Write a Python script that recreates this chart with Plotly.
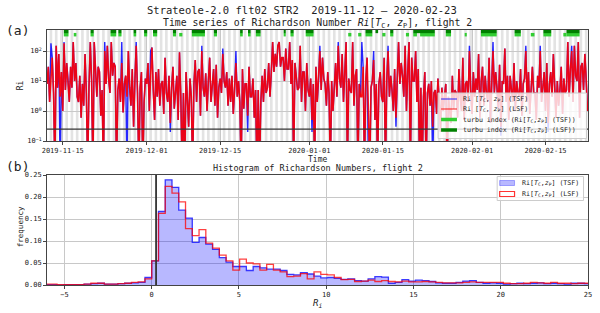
import numpy as np
import pandas as pd
import plotly.graph_objects as go

# ---------------- data ----------------
start_time = "2019-11-12 00:00"
sample_step = "6h"

# Richardson number, LSF (red), 4 samples per day
ri_lsf = [
    8, 30, 2, 15,   60, 4, 0.01, 150,   6, 80, 3, 20,   1, 180, 5, 40,   12, 2, 30, 6,
    200, 10, 40, 3,   2, 15, 0.6, 8,   1.5, 80, 4, 0.01,   6, 200, 10, 0.01,   200, 15, 3, 30,
    20, 0.7, 5, 0.01,   100, 8, 150, 12,   4, 200, 15, 40,   30, 0.01, 5, 12,   2, 40, 0.9, 8,
    15, 3, 100, 6,   1.5, 25, 0.3, 10,   150, 4, 0.01, 6,   20, 0.01, 2, 12,   8, 40, 1, 15,
    130, 5, 0.5, 20,   3, 25, 1.5, 8,   10, 0.8, 60, 4,   2, 15, 0.4, 6,   30, 1.2, 6, 15,
    0.5, 90, 3, 0.01,   4, 0.01, 20, 2,   0.3, 12, 3, 0.01,   8, 50, 2, 20,   25, 0.7, 100, 6,
    3, 18, 1, 10,   60, 2, 9, 25,   1.5, 35, 0.6, 6,   12, 4, 80, 10,   6, 20, 1.5, 12,
    2, 15, 0.8, 5,   40, 3, 10, 2,   0.01, 25, 1.2, 8,   8, 0.7, 30, 3,   3, 12, 0.6, 5,
    0.01, 5, 0.01, 2,   15, 2, 25, 4,   6, 40, 3, 20,   200, 20, 80, 30,   150, 200, 30, 60,
    60, 10, 120, 25,   25, 200, 8, 50,   0.01, 40, 15, 5,   6, 150, 2, 20,   20, 1, 40, 5,
    3, 12, 0.5, 8,   0.01, 30, 2, 10,   100, 5, 60, 12,   8, 1.5, 20, 4,   0.01, 10, 1, 6,
    40, 3, 150, 12,   6, 80, 2, 20,   200, 0.01, 12, 5,   4, 200, 1.5, 15,   25, 0.01, 8, 3,
    3, 30, 0.01, 10,   60, 1, 0.01, 6,   10, 50, 0.5, 8,   0.01, 8, 20, 3,   2, 60, 0.01, 10,
    100, 3, 15, 5,   1, 25, 0.6, 12,   200, 8, 40, 15,   3, 150, 1, 20,   200, 0.01, 60, 10,
    10, 100, 2, 25,   0.01, 6, 0.01, 3,   20, 0.01, 4, 8,   1.5, 10, 0.3, 4,   5, 0.8, 12, 2,
    0.2, 6, 1, 3,   8, 0.01, 3, 1,   0.4, 15, 1.2, 5,   4, 0.6, 25, 3,   1, 60, 0.5, 8,
    10, 2, 100, 5,   0.8, 20, 3, 12,   5, 80, 0.6, 10,   30, 1.5, 15, 4,   2, 60, 0.4, 8,
    100, 4, 20, 6,   1.2, 35, 0.3, 10,   8, 120, 2, 15,   0.5, 15, 5, 2,   40, 1, 10, 4,
    3, 25, 0.7, 8,   12, 100, 2, 20,   0.8, 8, 30, 4,   4, 0.5, 15, 6,   100, 2, 6, 20,
    1, 40, 0.4, 8,   20, 3, 80, 10,   0.6, 10, 1.5, 5,   30, 0.8, 12, 4,   5, 200, 3, 25,
    100, 2, 150, 15,   10, 200, 0.6, 30,   40, 5, 80, 12,   1,
]

# Richardson number, TSF (blue), 4 samples per day (mostly hidden under LSF)
ri_tsf = [
    8, 30, 2, 180,   60, 4, 0.01, 150,   6, 80, 0.01, 20,   1, 200, 5, 40,   12, 2, 30, 6,
    200, 10, 40, 3,   2, 15, 0.6, 8,   1.5, 80, 4, 0.01,   6, 200, 10, 0.01,   200, 15, 3, 30,
    20, 0.7, 5, 0.01,   200, 8, 150, 12,   4, 200, 15, 40,   30, 0.01, 5, 12,   2, 200, 0.9, 8,
    15, 0.01, 100, 6,   1.5, 25, 0.3, 10,   200, 4, 0.01, 6,   20, 0.01, 2, 12,   8, 40, 1, 100,
    130, 5, 0.5, 20,   3, 25, 1.5, 8,   10, 0.8, 60, 4,   2, 15, 0.2, 6,   30, 1.2, 6, 15,
    0.5, 90, 3, 0.01,   4, 0.01, 20, 2,   0.3, 12, 3, 0.01,   8, 50, 2, 20,   25, 0.7, 150, 6,
    3, 18, 1, 10,   60, 2, 9, 25,   1.5, 35, 0.6, 6,   12, 4, 120, 10,   6, 20, 1.5, 12,
    2, 15, 0.8, 5,   100, 3, 10, 2,   0.01, 25, 1.2, 8,   8, 0.2, 30, 3,   3, 12, 0.6, 5,
    0.01, 5, 0.01, 2,   15, 2, 25, 4,   6, 40, 3, 20,   200, 20, 80, 30,   150, 200, 30, 60,
    60, 10, 120, 25,   25, 200, 8, 50,   0.01, 40, 15, 5,   6, 150, 2, 20,   20, 1, 40, 5,
    3, 12, 0.2, 8,   0.01, 30, 2, 10,   150, 5, 60, 12,   8, 1.5, 20, 4,   0.01, 10, 1, 6,
    40, 3, 200, 12,   6, 80, 2, 20,   200, 0.01, 12, 5,   4, 200, 1.5, 15,   25, 0.01, 8, 3,
    200, 30, 0.01, 10,   60, 0.01, 0.01, 6,   10, 100, 0.5, 8,   0.01, 8, 20, 3,   2, 60, 0.01, 10,
    150, 3, 15, 5,   1, 25, 0.3, 12,   200, 8, 40, 15,   3, 150, 1, 20,   200, 0.01, 60, 10,
    10, 100, 2, 25,   0.01, 6, 0.01, 3,   20, 0.01, 4, 8,   1.5, 10, 0.01, 4,   5, 0.8, 12, 2,
    0.2, 6, 1, 3,   8, 0.01, 3, 1,   0.4, 15, 1.2, 5,   4, 0.6, 25, 3,   1, 60, 0.5, 8,
    10, 2, 150, 5,   0.8, 20, 3, 12,   5, 80, 0.6, 10,   30, 1.5, 15, 4,   2, 60, 0.4, 8,
    200, 4, 20, 6,   1.2, 35, 0.15, 10,   8, 120, 2, 15,   0.5, 15, 5, 2,   40, 1, 10, 4,
    3, 25, 0.7, 8,   12, 150, 2, 20,   0.8, 8, 30, 4,   4, 0.5, 15, 6,   150, 2, 6, 20,
    1, 40, 0.2, 8,   20, 3, 80, 10,   0.6, 10, 1.5, 5,   30, 0.8, 12, 4,   5, 200, 3, 25,
    150, 2, 150, 15,   10, 200, 0.6, 30,   40, 5, 80, 12,   1,
]

# turbulence index periods (days since start)
turb_tsf_start = [3.2, 5.1, 8.3, 12.1, 13.6, 16.5, 18.5, 20.2, 24.0, 25.2, 27.6, 31.8,
                  36.8, 38.3, 39.8, 45.1, 46.4, 49.3, 57.4, 59.3, 60.7, 63.9, 65.4,
                  68.4, 69.8, 71.1, 76.0, 79.6, 82.7, 89.1, 92.2, 94.6, 98.4, 99.0]
turb_tsf_end = [4.1, 5.6, 8.9, 13.2, 14.2, 17.0, 19.1, 21.0, 24.6, 25.8, 30.1, 32.4,
                37.3, 38.8, 40.7, 45.5, 47.0, 50.8, 58.0, 59.9, 62.0, 64.5, 66.0,
                69.0, 70.5, 73.9, 77.0, 80.0, 85.7, 90.3, 92.9, 96.1, 99.0, 101.5]
turb_lsf_start = [3.2, 8.3, 12.1, 13.6, 16.5, 18.5, 20.2, 24.0, 27.6, 31.8, 36.8, 38.3,
                  39.8, 45.1, 46.4, 49.3, 60.7, 62.6, 65.4, 69.8, 76.0, 82.7, 89.1,
                  94.6, 99.0]
turb_lsf_end = [4.1, 8.9, 13.2, 14.2, 17.0, 19.1, 21.0, 24.6, 30.1, 32.4, 37.3, 38.8,
                40.7, 45.5, 47.0, 50.8, 62.0, 63.1, 66.0, 73.9, 77.0, 85.7, 90.3,
                96.1, 101.5]

date_ticks = ["2019-11-15", "2019-12-01", "2019-12-15", "2020-01-01",
              "2020-01-15", "2020-02-01", "2020-02-15"]

# histogram of Ri (bins of width 0.3875 starting at -6.2)
hist_bin_start = -6.2
hist_bin_width = 0.3875
hist_tsf = [
    0.001, 0.001, 0.0005, 0.001, 0.001, 0.001, 0.002, 0.003, 0.004, 0.002, 0.002, 0.003, 0.004, 0.005, 0.006, 0.017,
    0.055, 0.167, 0.239, 0.222, 0.170, 0.152, 0.097, 0.108, 0.093, 0.081,
    0.062, 0.052, 0.042, 0.042, 0.033, 0.042, 0.039, 0.036, 0.036, 0.033,
    0.024, 0.023, 0.028, 0.025, 0.020, 0.016, 0.017, 0.015, 0.013, 0.014,
    0.010, 0.009, 0.014, 0.019, 0.018, 0.004, 0.006, 0.012, 0.009, 0.011,
    0.010, 0.008, 0.005, 0.004, 0.004, 0.006, 0.009, 0.010, 0.006, 0.004,
    0.005, 0.004, 0.002, 0.003, 0.004, 0.003, 0.004, 0.005, 0.003, 0.004,
    0.003, 0.002, 0.004, 0.004, 0.003,
]
hist_lsf = [
    0.002, 0.002, 0.001, 0.001, 0.001, 0.001, 0.002, 0.004, 0.004, 0.002, 0.002, 0.003, 0.004, 0.006, 0.007, 0.014,
    0.055, 0.163, 0.224, 0.209, 0.189, 0.128, 0.112, 0.126, 0.095, 0.084,
    0.068, 0.055, 0.034, 0.059, 0.050, 0.048, 0.034, 0.047, 0.034, 0.030,
    0.019, 0.020, 0.026, 0.014, 0.030, 0.024, 0.023, 0.017, 0.012, 0.013,
    0.008, 0.009, 0.011, 0.008, 0.010, 0.008, 0.007, 0.009, 0.007, 0.007,
    0.008, 0.007, 0.006, 0.005, 0.005, 0.005, 0.006, 0.007, 0.006, 0.006,
    0.006, 0.006, 0.004, 0.003, 0.003, 0.004, 0.006, 0.005, 0.004, 0.006,
    0.004, 0.004, 0.003, 0.004, 0.004,
]
ri_critical = 0.25

# ---------------- figure ----------------
FONT = "DejaVu Sans Mono"
W, H = 600, 313
ML, MR, MT, MB = 47, 8, 30, 28
PW = W - ML - MR          # 545
PH = H - MT - MB          # 255


def px(xpage):   # page x pixel -> paper x
    return (xpage - ML) / PW


def py(ypage):   # page y pixel -> paper y
    return (H - MB - ypage) / PH


t0 = pd.Timestamp(start_time)
times = pd.date_range(t0, periods=len(ri_lsf), freq=sample_step)

BLUE = "rgba(0,0,255,0.85)"
RED = "rgba(255,0,0,0.9)"
LGREEN = "#32cd32"
DGREEN = "#008000"

fig = go.Figure()
fig.add_trace(go.Scatter(x=times, y=ri_tsf, mode="lines", line=dict(color=BLUE, width=1.4),
                         xaxis="x", yaxis="y", showlegend=False))
fig.add_trace(go.Scatter(x=times, y=ri_lsf, mode="lines", line=dict(color=RED, width=1.6),
                         xaxis="x", yaxis="y", showlegend=False))


def seg_xy(starts, ends, level):
    xs, ys = [], []
    for a, b in zip(starts, ends):
        xs += [t0 + pd.Timedelta(days=a), t0 + pd.Timedelta(days=b), None]
        ys += [level, level, None]
    return xs, ys


xs, ys = seg_xy(turb_tsf_start, turb_tsf_end, 350)
fig.add_trace(go.Scatter(x=xs, y=ys, mode="lines", line=dict(color=LGREEN, width=3.5),
                         xaxis="x", yaxis="y", showlegend=False, connectgaps=False))
xs, ys = seg_xy(turb_lsf_start, turb_lsf_end, 450)
fig.add_trace(go.Scatter(x=xs, y=ys, mode="lines", line=dict(color=DGREEN, width=3.5),
                         xaxis="x", yaxis="y", showlegend=False, connectgaps=False))

# histogram as step outlines
n_bins = len(hist_tsf)
edges = [round(hist_bin_start + hist_bin_width * i, 4) for i in range(n_bins + 1)]
hx = [edges[0]] + edges
fig.add_trace(go.Scatter(x=hx, y=[0] + hist_tsf + [0], mode="lines", line_shape="hv",
                         fill="tozeroy", fillcolor="rgba(0,0,255,0.28)",
                         line=dict(color="rgba(0,0,255,0.75)", width=1.3),
                         xaxis="x2", yaxis="y2", showlegend=False))
fig.add_trace(go.Scatter(x=hx, y=[0] + hist_lsf + [0], mode="lines", line_shape="hv",
                         line=dict(color="rgba(255,0,0,0.75)", width=1.3),
                         xaxis="x2", yaxis="y2", showlegend=False))

# night shading stripes + reference lines
shapes = []
n_days = int(np.ceil(len(ri_lsf) / 4)) + 1
for d in range(-1, n_days):
    shapes.append(dict(type="rect", xref="x", yref="y domain",
                       x0=t0 + pd.Timedelta(days=d + 0.5), x1=t0 + pd.Timedelta(days=d + 1.0),
                       y0=0, y1=1, fillcolor="#e3e3e3", line=dict(width=0), layer="below"))
shapes.append(dict(type="line", xref="x domain", yref="y", x0=0, x1=1,
                   y0=ri_critical, y1=ri_critical, line=dict(color="#333333", width=1.3)))
shapes.append(dict(type="line", xref="x2", yref="y2 domain", x0=ri_critical, x1=ri_critical,
                   y0=0, y1=1, line=dict(color="#333333", width=1.8)))

# ---- legend of panel (a), drawn by hand for a compact layout ----
leg_a_labels = [
    "Ri [<i>T</i><sub>C</sub>, <i>z</i><sub>P</sub>] (TSF)",
    "Ri [<i>T</i><sub>C</sub>, <i>z</i><sub>P</sub>] (LSF)",
    "turbu index (Ri[<i>T</i><sub>C</sub>,<i>z</i><sub>P</sub>] (TSF))",
    "turbu index (Ri[<i>T</i><sub>C</sub>,<i>z</i><sub>P</sub>] (LSF))",
]
leg_a_colors = [BLUE, RED, LGREEN, DGREEN]
leg_a_widths = [1, 1, 3.5, 3.5]
leg_a_rows = [99, 109, 119.5, 130]
shapes.append(dict(type="rect", xref="paper", yref="paper",
                   x0=px(441), x1=px(590.5), y0=py(138.5), y1=py(93),
                   fillcolor="rgba(255,255,255,0.8)", line=dict(color="#cccccc", width=1)))
for lab, c, w, yr in zip(leg_a_labels, leg_a_colors, leg_a_widths, leg_a_rows):
    shapes.append(dict(type="line", xref="paper", yref="paper", x0=px(444), x1=px(460),
                       y0=py(yr), y1=py(yr), line=dict(color=c, width=w)))

# ---- legend of panel (b) ----
leg_b_labels = ["Ri[<i>T</i><sub>C</sub>,<i>z</i><sub>P</sub>] (TSF)",
                "Ri[<i>T</i><sub>C</sub>,<i>z</i><sub>P</sub>] (LSF)"]
leg_b_rows = [183, 194]
shapes.append(dict(type="rect", xref="paper", yref="paper",
                   x0=px(500.5), x1=px(587.5), y0=py(200.5), y1=py(176.5),
                   fillcolor="rgba(255,255,255,0.8)", line=dict(color="#cccccc", width=1)))
shapes.append(dict(type="rect", xref="paper", yref="paper", x0=px(503), x1=px(518),
                   y0=py(leg_b_rows[0] + 2.5), y1=py(leg_b_rows[0] - 2.5),
                   fillcolor="rgba(0,0,255,0.28)", line=dict(color="rgba(0,0,255,0.3)", width=1)))
shapes.append(dict(type="rect", xref="paper", yref="paper", x0=px(503), x1=px(518),
                   y0=py(leg_b_rows[1] + 2.5), y1=py(leg_b_rows[1] - 2.5),
                   fillcolor="rgba(0,0,0,0)", line=dict(color="rgba(255,0,0,0.8)", width=1.2)))

tickfont = dict(family=FONT, size=7, color="#222222")
axis_common = dict(showline=True, linecolor="#444444", linewidth=1, mirror=True,
                   ticks="outside", ticklen=3, tickcolor="#444444", tickfont=tickfont,
                   showgrid=True, gridcolor="#c8c8c8", gridwidth=0.8, zeroline=False)

fig.update_layout(
    width=W, height=H,
    margin=dict(l=ML, r=MR, t=MT, b=MB),
    paper_bgcolor="white", plot_bgcolor="white",
    font=dict(family=FONT, size=8, color="#222222"),
    showlegend=False,
    xaxis=dict(domain=[0, 1], anchor="y", type="date",
               range=[t0, t0 + pd.Timedelta(days=103.1)],
               tickvals=date_ticks, tickformat="%Y-%m-%d", **axis_common),
    yaxis=dict(domain=[py(141), 1.0], anchor="x", type="log", range=[-1, 2.7],
               tickvals=[0.1, 1, 10, 100],
               ticktext=["10<sup>−1</sup>", "10<sup>0</sup>", "10<sup>1</sup>", "10<sup>2</sup>"],
               **axis_common),
    xaxis2=dict(domain=[0, 1], anchor="y2", range=[-6, 25], dtick=5, **axis_common),
    yaxis2=dict(domain=[0, py(175)], anchor="x2", range=[0, 0.25], dtick=0.05,
                tickformat=".2f", **axis_common),
    shapes=shapes,
)

ann = [
    dict(text="Strateole-2.0 flt02 STR2  2019-11-12 – 2020-02-23", x=px(304), y=py(10),
         font=dict(family=FONT, size=10.5)),
    dict(text="Time series of Richardson Number <i>Ri</i>[<i>T</i><sub>C</sub>, <i>z</i><sub>P</sub>], flight 2",
         x=0.5, y=py(23), font=dict(family=FONT, size=9.8)),
    dict(text="(a)", x=px(4), y=py(31), xanchor="left", font=dict(family=FONT, size=13)),
    dict(text="(b)", x=px(4), y=py(166), xanchor="left", font=dict(family=FONT, size=13)),
    dict(text="Histogram of Richardson Numbers, flight 2", x=0.5, y=py(168),
         font=dict(family=FONT, size=8.5)),
    dict(text="Time", x=0.5, y=py(159.5), font=dict(family=FONT, size=8)),
    dict(text="<i>R</i><sub><i>i</i></sub>", x=0.5, y=py(303), font=dict(family=FONT, size=9)),
    dict(text="Ri", x=px(20), y=py(85), textangle=-90, font=dict(family=FONT, size=8)),
    dict(text="frequency", x=px(20), y=py(227), textangle=-90, font=dict(family=FONT, size=7.5)),
]
for lab, yr in zip(leg_a_labels, leg_a_rows):
    ann.append(dict(text=lab, x=px(464), y=py(yr), xanchor="left",
                    font=dict(family=FONT, size=6.6)))
for lab, yr in zip(leg_b_labels, leg_b_rows):
    ann.append(dict(text=lab, x=px(523), y=py(yr), xanchor="left",
                    font=dict(family=FONT, size=6.6)))
for a in ann:
    a.setdefault("xanchor", "center")
    fig.add_annotation(xref="paper", yref="paper", showarrow=False, yanchor="middle", **a)

# remove the browser's default 8px body margin so the 600x313 figure fills the window
fig.write_html("out.html", config={"displayModeBar": False},
               post_script="document.body.style.margin='0px';")
